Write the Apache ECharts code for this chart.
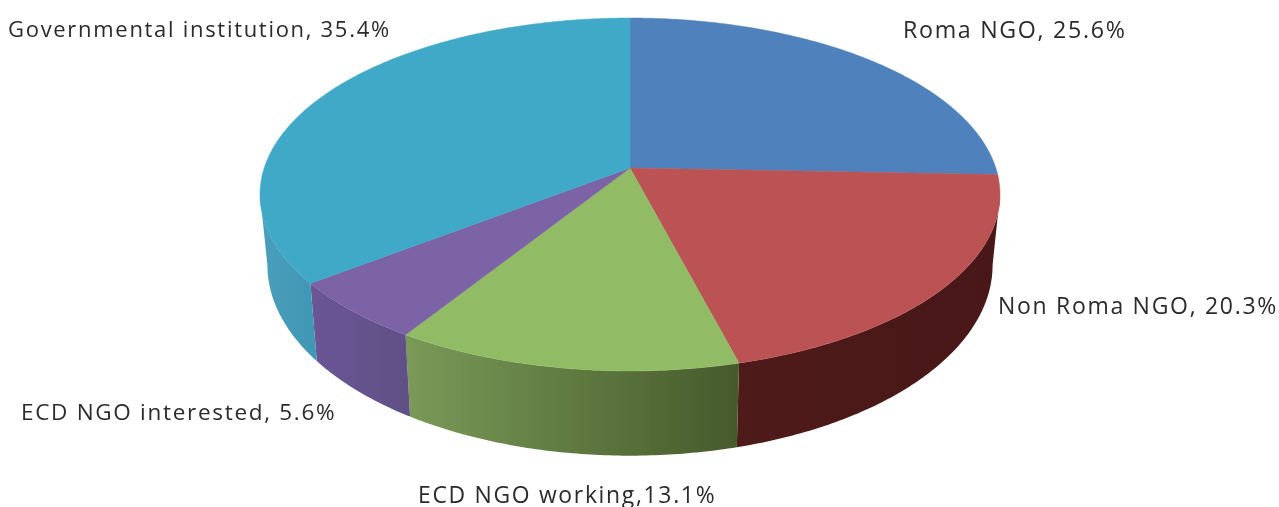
<!DOCTYPE html>
<html>
<head>
<meta charset="utf-8">
<style>html,body{margin:0;padding:0;background:#fff}#c{width:1279px;height:507px}</style>
<script src="https://cdn.jsdelivr.net/npm/echarts@6/dist/echarts.min.js"></script>
</head>
<body>
<div id="c"></div>
<script>
const categories = ['Roma NGO', 'Non Roma NGO', 'ECD NGO working', 'ECD NGO interested', 'Governmental institution'];
const shares = [25.6, 20.3, 13.1, 5.6, 35.4];
const labelTexts = ['Roma NGO, 25.6%', 'Non Roma NGO, 20.3%', 'ECD NGO working,13.1%', 'ECD NGO interested, 5.6%', 'Governmental institution, 35.4%'];

const topColors = ['#4f81bd', '#bb5355', '#91bb65', '#7c63a5', '#41a9c8'];
const sideStops = [
  ['#3a5f8e', '#3a5f8e'],
  ['#4f1a1a', '#481717'],
  ['#7a9a58', '#465a2b'],
  ['#6b5596', '#5f5085'],
  ['#4a9fbb', '#3f97b4']
];
const labelPos = [[903, 31], [998, 307], [418, 496], [21, 414], [8, 31]];
const labelSizes = [23.2, 23, 22.9, 22.5, 22];

// perspective disc geometry
const G = { ax: 630, ay: 168, A: 365.8, B: 172.5, k: 0.15, bx: 0.98, by: 1.08, bay: 236.5 };
const total = shares.reduce((a, b) => a + b, 0);
const starts = [];
shares.reduce((acc, v, i) => { starts[i] = acc; return acc + v; }, 0);
// angles where the disc rim has its rightmost and leftmost points
const frontFrom = Math.acos(-G.k);
const frontTo = 2 * Math.PI - frontFrom;

function topPt(t) {
  const w = 1 + G.k * Math.cos(t);
  return [G.ax + G.A * Math.sin(t) / w, G.ay - G.B * Math.cos(t) / w];
}
function botPt(t) {
  const p = topPt(t);
  return [G.ax + G.bx * (p[0] - G.ax), G.bay + G.by * (p[1] - G.ay)];
}
function arc(fn, a, b) {
  const n = Math.max(4, Math.ceil((b - a) * 90));
  const pts = [];
  for (let i = 0; i <= n; i++) pts.push(fn(a + (b - a) * i / n));
  return pts;
}
function span(i, v) {
  const a = starts[i] / total * 2 * Math.PI;
  return [a, a + v / total * 2 * Math.PI];
}

const chart = echarts.init(document.getElementById('c'), null, { renderer: 'canvas' });

function renderSide(params, api) {
  const i = params.dataIndex;
  const [s, e] = span(i, api.value(0));
  const a = Math.max(s, frontFrom), b = Math.min(e, frontTo);
  if (b <= a) return null;
  const pts = arc(topPt, a, b).concat(arc(botPt, a, b).reverse());
  return {
    type: 'polygon',
    shape: { points: pts },
    style: {
      fill: new echarts.graphic.LinearGradient(0, 0, 1, 0, [
        { offset: 0, color: sideStops[i][0] },
        { offset: 1, color: sideStops[i][1] }
      ])
    },
    silent: true
  };
}
function renderTop(params, api) {
  const i = params.dataIndex;
  const [a, b] = span(i, api.value(0));
  const pts = [[G.ax, G.ay]].concat(arc(topPt, a, b));
  return {
    type: 'group',
    children: [
      {
        type: 'polygon',
        shape: { points: pts },
        style: { fill: topColors[i], stroke: topColors[i], lineWidth: 0.5 },
        silent: true
      },
      {
        type: 'text',
        x: labelPos[i][0],
        y: labelPos[i][1],
        style: {
          text: labelTexts[i],
          fill: '#2b2b2b',
          font: '400 ' + labelSizes[i] + 'px "Open Sans", sans-serif',
          align: 'left',
          verticalAlign: 'middle'
        },
        silent: true
      }
    ]
  };
}

const seriesData = shares.map((v, i) => ({ name: categories[i], value: [v] }));
const option = {
  animation: false,
  backgroundColor: '#ffffff',
  series: [
    { type: 'custom', coordinateSystem: 'none', name: 'side', renderItem: renderSide, data: seriesData, z: 1, clip: false },
    { type: 'custom', coordinateSystem: 'none', name: 'top', renderItem: renderTop, data: seriesData, z: 2, clip: false }
  ]
};
chart.setOption(option);
// the canvas exists after the first paint; widen the label tracking, then paint again
const cv = document.querySelector('#c canvas');
if (cv) {
  cv.getContext('2d').letterSpacing = '1.7px';
  chart.clear();
  chart.setOption(option, true);
}
</script>
</body>
</html>
